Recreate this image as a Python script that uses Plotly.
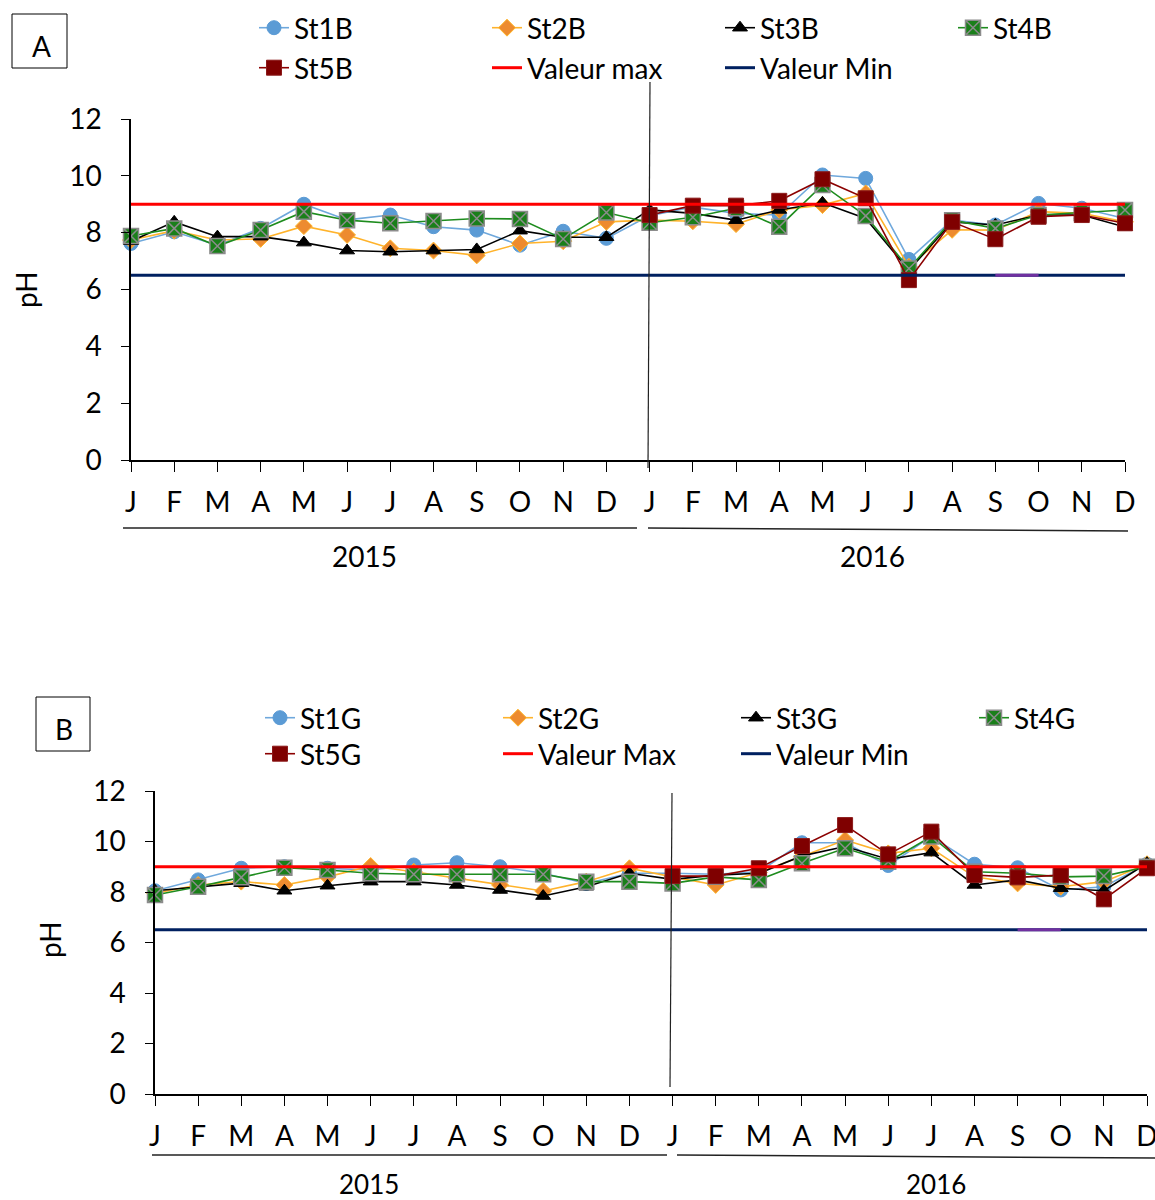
import plotly.graph_objects as go

# ---- data -------------------------------------------------------------
months = ["J", "F", "M", "A", "M", "J", "J", "A", "S", "O", "N", "D"] * 2
idx = list(range(24))
NA = None

# Panel A (B stations)
st1b = [7.62, 8.03, 7.56, 8.15, 9.0, 8.45, 8.62, 8.21, 8.09, 7.56, 8.05, 7.8,
        8.6, 8.9, 8.68, 8.62, 10.03, 9.91, 7.06, 8.44, 8.27, 9.03, 8.86, 8.5]
st2b = [7.74, 8.07, 7.74, 7.78, 8.23, 7.92, 7.45, 7.37, 7.2, 7.62, 7.7, 8.38,
        8.44, 8.4, 8.3, 8.8, 8.97, 9.38, 6.8, 8.1, 8.09, 8.74, 8.68, 8.38]
st3b = [7.7, 8.38, 7.86, 7.86, 7.65, 7.37, 7.33, 7.37, 7.41, 8.07, 7.84, 7.84,
        8.8, 8.68, 8.44, 8.8, 9.05, 8.5, 6.68, 8.38, 8.27, 8.62, 8.62, 8.2]
st4b = [7.88, 8.15, 7.53, 8.09, 8.74, 8.44, 8.33, 8.41, 8.5, 8.48, 7.78, 8.71,
        8.35, 8.54, 8.86, 8.21, 9.68, 8.59, 6.74, 8.44, 8.15, 8.62, 8.7, 8.8]
st5b = [NA] * 12 + [8.62, 8.95, 8.95, 9.12, 9.88, 9.21, 6.33, 8.38, 7.77, 8.56, 8.62, 8.33]

# Panel B (G stations)
st1g = [8.05, 8.48, 8.94, 9.0, 8.94, 8.87, 9.07, 9.16, 9.0, 8.74, 8.34, 8.74,
        8.74, 8.7, 8.8, 9.95, 9.95, 9.05, 10.2, 9.1, 8.96, 8.08, 8.21, 9.1]
st2g = [7.95, 8.28, 8.41, 8.28, 8.6, 9.03, 8.8, 8.54, 8.28, 8.04, 8.41, 8.94,
        8.6, 8.28, 8.77, 9.4, 10.06, 9.53, 9.73, 8.6, 8.34, 8.21, 8.41, 9.1]
st3g = [8.05, 8.2, 8.35, 8.05, 8.25, 8.41, 8.41, 8.28, 8.08, 7.84, 8.21, 8.74,
        8.5, 8.67, 8.74, 9.43, 9.8, 9.3, 9.56, 8.28, 8.48, 8.15, 8.05, 9.14]
st4g = [7.88, 8.21, 8.58, 8.96, 8.87, 8.74, 8.7, 8.7, 8.7, 8.7, 8.41, 8.41,
        8.34, 8.6, 8.48, 9.14, 9.73, 9.2, 10.2, 8.8, 8.74, 8.6, 8.63, 9.0]
st5g = [NA] * 12 + [8.63, 8.63, 8.94, 9.82, 10.65, 9.49, 10.39, 8.67, 8.58, 8.67, 7.71, 8.94]

ph_max = [9.0] * 24
ph_min = [6.5] * 24
# short overlay on the minimum line (Sep-Oct 2016)
seg_x = [20, 21]
seg_y = [6.5, 6.5]

years = ["2015", "2016"]

# ---- page geometry helpers (pixels -> paper) --------------------------
W, H = 1155, 1200
def px(x):
    return x / W
def py(y):
    return 1 - y / H

FONT = "Lato, Liberation Sans, sans-serif"
FS = 28

styles = [
    dict(symbol="circle", size=14, color="#5B9BD5", line=dict(color="#5B9BD5", width=1), lc="#6FA8DC"),
    dict(symbol="diamond", size=13, color="#ED8B2F", line=dict(color="#FFB72B", width=1), lc="#FFB32B"),
    dict(symbol="triangle-up", size=13, color="#000000", line=dict(color="#000000", width=1), lc="#000000"),
    dict(symbol="square-x", size=15, color="#1A7F1A", line=dict(color="#8C8C8C", width=1.5), lc="#1E8C1E"),
    dict(symbol="square", size=15, color="#7F0000", line=dict(color="#8B1A1A", width=1), lc="#8B0000"),
]

fig = go.Figure()

def add_panel(series, names, xa, ya, leg1, leg2, max_name):
    for i, (vals, name) in enumerate(zip(series, names)):
        s = styles[i]
        extra = dict(legendwidth=70) if i == 3 else {}
        fig.add_trace(go.Scatter(
            x=idx, y=vals, name=name, mode="lines+markers",
            line=dict(color=s["lc"], width=1.6),
            marker=dict(symbol=s["symbol"], size=s["size"], color=s["color"], line=s["line"]),
            xaxis=xa, yaxis=ya, cliponaxis=False,
            legend=leg1 if i < 4 else leg2, **extra,
        ))
    fig.add_trace(go.Scatter(x=idx, y=ph_max, name=max_name, mode="lines",
                             line=dict(color="#FF0000", width=3), xaxis=xa, yaxis=ya, legend=leg2))
    fig.add_trace(go.Scatter(x=idx, y=ph_min, name="Valeur Min", mode="lines",
                             line=dict(color="#002060", width=3), xaxis=xa, yaxis=ya, legend=leg2,
                             legendwidth=170))
    fig.add_trace(go.Scatter(x=seg_x, y=seg_y, mode="lines", showlegend=False,
                             line=dict(color="#7030A0", width=3), xaxis=xa, yaxis=ya))

add_panel([st1b, st2b, st3b, st4b, st5b], ["St1B", "St2B", "St3B", "St4B", "St5B"],
          "x", "y", "legend", "legend2", "Valeur max")
add_panel([st1g, st2g, st3g, st4g, st5g], ["St1G", "St2G", "St3G", "St4G", "St5G"],
          "x2", "y2", "legend3", "legend4", "Valeur Max")

axis_common = dict(showline=True, linecolor="black", linewidth=1.5, showgrid=False,
                   zeroline=False, ticks="outside", tickcolor="black", automargin=False,
                   ticklabeloverflow="allow",
                   tickfont=dict(family=FONT, size=FS, color="black"))

fig.update_layout(
    width=W, height=H, margin=dict(l=0, r=0, t=0, b=0, autoexpand=False),
    paper_bgcolor="white", plot_bgcolor="white",
    font=dict(family=FONT, size=FS, color="black"),
    xaxis=dict(axis_common, range=[0, 23], domain=[px(131), px(1125)], anchor="y",
               tickvals=idx, ticktext=months, ticklen=10, tickwidth=1.2, ticklabelstandoff=7),
    yaxis=dict(axis_common, range=[0, 12], dtick=2, domain=[py(460), py(119)], anchor="x",
               ticklen=8, tickwidth=1.2, ticklabelstandoff=14),
    xaxis2=dict(axis_common, range=[0, 23], domain=[px(155), px(1147)], anchor="y2",
                tickvals=idx, ticktext=months, ticklen=10, tickwidth=1.2, ticklabelstandoff=7),
    yaxis2=dict(axis_common, range=[0, 12], dtick=2, domain=[py(1094), py(791)], anchor="x2",
                ticklen=8, tickwidth=1.2, ticklabelstandoff=14),
)

leg_common = dict(orientation="h", xanchor="left", yanchor="middle", entrywidthmode="pixels",
                  bgcolor="rgba(0,0,0,0)", font=dict(family=FONT, size=FS, color="black"),
                  itemclick=False, tracegroupgap=0)
fig.update_layout(
    legend=dict(leg_common, x=px(254), y=py(28), entrywidth=188),
    legend2=dict(leg_common, x=px(254), y=py(68), entrywidth=188),
    legend3=dict(leg_common, x=px(260), y=py(718), entrywidth=193),
    legend4=dict(leg_common, x=px(260), y=py(754), entrywidth=193),
)

shapes = []
annotations = []

def line(x0, y0, x1, y1, color="black", width=1.2):
    shapes.append(dict(type="line", xref="paper", yref="paper",
                       x0=px(x0), y0=py(y0), x1=px(x1), y1=py(y1),
                       line=dict(color=color, width=width)))

def text(x, y, s, size=FS, angle=0):
    annotations.append(dict(xref="paper", yref="paper", x=px(x), y=py(y), text=s,
                            showarrow=False, xanchor="center", yanchor="middle",
                            textangle=angle, font=dict(family=FONT, size=size, color="black")))

# panel tags
shapes.append(dict(type="rect", xref="paper", yref="paper", x0=px(12), y0=py(68), x1=px(67), y1=py(14),
                   line=dict(color="black", width=1)))
shapes.append(dict(type="rect", xref="paper", yref="paper", x0=px(36), y0=py(751), x1=px(90), y1=py(697),
                   line=dict(color="black", width=1)))
text(41, 46, "A")
text(64, 729, "B")

# axis titles
text(26, 290, "pH", angle=-90)
text(50, 940, "pH", angle=-90)

# year separators
line(650, 82, 648, 468, color="#222222", width=1.2)
line(672, 793, 670, 1087, color="#222222", width=1.2)

# year underlines and labels
line(123, 528, 637, 528, color="#222222", width=1.5)
line(648, 528, 1128, 531, color="#222222", width=1.5)
line(152, 1155, 667, 1155, color="#222222", width=1.5)
line(677, 1155, 1155, 1158, color="#222222", width=1.5)
text(364, 556, years[0])
text(872, 556, years[1])
text(369, 1184, years[0], size=26)
text(936, 1184, years[1], size=26)

fig.update_layout(shapes=shapes, annotations=annotations)

fig.write_html("out.html")
